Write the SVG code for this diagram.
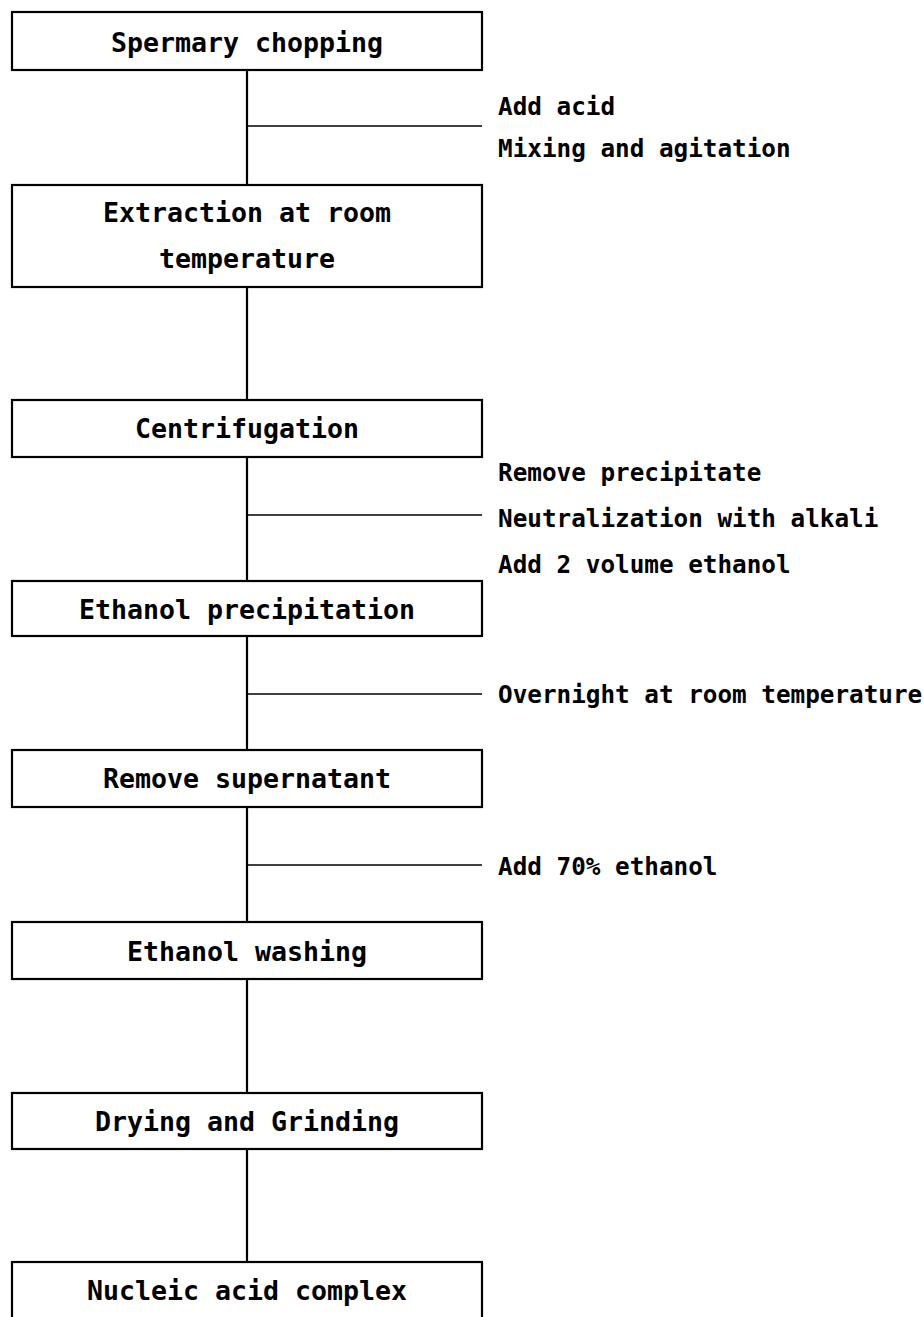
<svg xmlns="http://www.w3.org/2000/svg" width="924" height="1317" viewBox="0 0 924 1317">
<style>
.box{fill:#fff;stroke:#000;stroke-width:2.2}
.t{font-family:"DejaVu Sans Mono","Liberation Mono",monospace;font-weight:bold;font-size:26.6px;fill:#000;text-anchor:middle}
.s{font-family:"DejaVu Sans Mono","Liberation Mono",monospace;font-weight:bold;font-size:24.3px;fill:#000}
.v{stroke:#000;stroke-width:2.2;fill:none}
.h{stroke:#000;stroke-width:1.3;fill:none}
</style>
<rect width="924" height="1317" fill="#fff"/>
<g id="connectors">
<line class="v" x1="247" y1="70" x2="247" y2="185"/>
<line class="h" x1="247" y1="126" x2="482" y2="126"/>
<line class="v" x1="247" y1="287" x2="247" y2="400"/>
<line class="v" x1="247" y1="457" x2="247" y2="581"/>
<line class="h" x1="247" y1="515" x2="482" y2="515"/>
<line class="v" x1="247" y1="636" x2="247" y2="750"/>
<line class="h" x1="247" y1="694" x2="482" y2="694"/>
<line class="v" x1="247" y1="807" x2="247" y2="922"/>
<line class="h" x1="247" y1="865" x2="482" y2="865"/>
<line class="v" x1="247" y1="979" x2="247" y2="1093"/>
<line class="v" x1="247" y1="1149" x2="247" y2="1262"/>
</g>
<g id="labels">
<text class="s" x="498" y="115">Add acid</text>
<text class="s" x="498" y="157">Mixing and agitation</text>
<text class="s" x="498" y="481">Remove precipitate</text>
<text class="s" x="498" y="527">Neutralization with alkali</text>
<text class="s" x="498" y="573">Add 2 volume ethanol</text>
<text class="s" x="498" y="703">Overnight at room temperature</text>
<text class="s" x="498" y="875">Add 70% ethanol</text>
</g>
<g id="n1"><rect class="box" x="12" y="12" width="470" height="58"/><text class="t" x="247" y="52">Spermary chopping</text></g>
<g id="n2"><rect class="box" x="12" y="185" width="470" height="102"/><text class="t" x="247" y="222">Extraction at room</text><text class="t" x="247" y="268">temperature</text></g>
<g id="n3"><rect class="box" x="12" y="400" width="470" height="57"/><text class="t" x="247" y="438">Centrifugation</text></g>
<g id="n4"><rect class="box" x="12" y="581" width="470" height="55"/><text class="t" x="247" y="619">Ethanol precipitation</text></g>
<g id="n5"><rect class="box" x="12" y="750" width="470" height="57"/><text class="t" x="247" y="788">Remove supernatant</text></g>
<g id="n6"><rect class="box" x="12" y="922" width="470" height="57"/><text class="t" x="247" y="961">Ethanol washing</text></g>
<g id="n7"><rect class="box" x="12" y="1093" width="470" height="56"/><text class="t" x="247" y="1131">Drying and Grinding</text></g>
<g id="n8"><rect class="box" x="12" y="1262" width="470" height="80"/><text class="t" x="247" y="1300">Nucleic acid complex</text></g>
</svg>
